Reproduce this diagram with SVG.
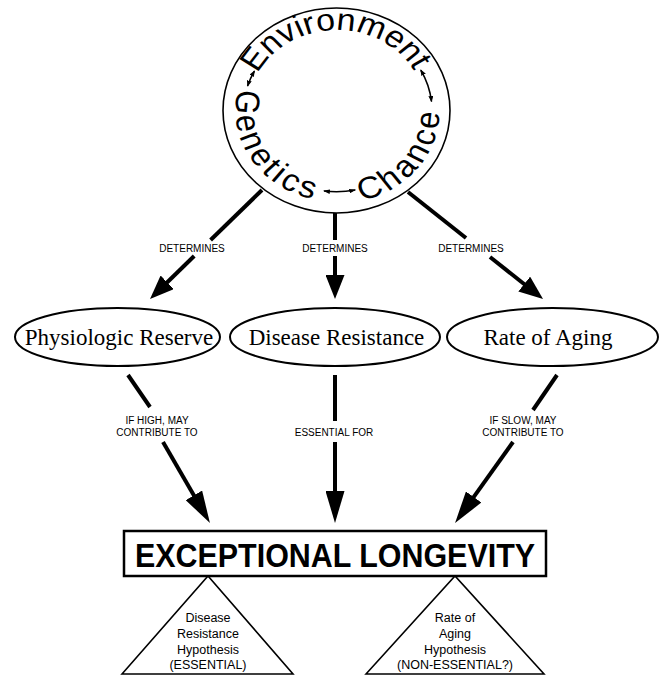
<svg xmlns="http://www.w3.org/2000/svg" width="662" height="675" viewBox="0 0 662 675">
<style>
.bg{fill:#fff}
.ln{stroke:#000;stroke-width:4;fill:none}
.thin{stroke:#000;stroke-width:1.6;fill:none}
.big{font-family:"Liberation Sans",Arial,sans-serif;font-size:34px;fill:#000}
.lbl{font-family:"Liberation Sans",Arial,sans-serif;font-size:10px;fill:#000;text-anchor:middle}
.ell{font-family:"Liberation Serif","Times New Roman",serif;font-size:23px;fill:#000;text-anchor:middle}
.eo{fill:none;stroke:#000;stroke-width:2}
.tri{font-family:"Liberation Sans",Arial,sans-serif;font-size:12.5px;fill:#000;text-anchor:middle}
.title{font-family:"Liberation Sans",Arial,sans-serif;font-size:33px;font-weight:bold;fill:#000;text-anchor:middle}
</style>
<defs>
<marker id="mU" viewBox="0 0 24 19" refX="1" refY="9.5" markerWidth="24" markerHeight="19" markerUnits="userSpaceOnUse" orient="auto"><path d="M0,0 L24,9.5 L0,19 z" fill="#000"/></marker>
<marker id="mL" viewBox="0 0 32 19" refX="1" refY="9.5" markerWidth="32" markerHeight="19" markerUnits="userSpaceOnUse" orient="auto"><path d="M0,0 L32,9.5 L0,19 z" fill="#000"/></marker>
<marker id="sm" viewBox="0 0 7 5" refX="6" refY="2.5" markerWidth="7" markerHeight="5" markerUnits="userSpaceOnUse" orient="auto-start-reverse"><path d="M0,0 L7,2.5 L0,5 z" fill="#000"/></marker>
<path id="pEnv" d="M -87.9,-13.9 A 89 89 0 0 1 87.4,-17"/>
<path id="pGen" d="M -74.5,-68.2 A 101 101 0 0 0 30.4,96.3"/>
<path id="pCha" d="M -32.1,98.0 A 103 103 0 0 0 86.2,-56.4"/>
</defs>
<rect class="bg" x="0" y="0" width="662" height="675"/>

<g id="factors" transform="translate(336.5,110.5) scale(1,0.903)">
<circle cx="0" cy="0" r="113.5" fill="none" stroke="#000" stroke-width="1.6"/>
<text class="big"><textPath href="#pEnv" startOffset="50%" text-anchor="middle">Environment</textPath></text>
<text class="big" letter-spacing="3.4"><textPath href="#pGen" startOffset="50%" text-anchor="middle">Genetics</textPath></text>
<text class="big" letter-spacing="3.3"><textPath href="#pCha" startOffset="50%" text-anchor="middle">Chance</textPath></text>
<path class="thin" d="M -82.1,-43.7 A 93 93 0 0 0 -88.9,-27.2" marker-start="url(#sm)" marker-end="url(#sm)"/>
<path class="thin" d="M 84.3,-44.8 A 95.5 95.5 0 0 1 95.0,-10.0" marker-start="url(#sm)" marker-end="url(#sm)"/>
<path class="thin" d="M -12.5,89.1 A 90 90 0 0 0 18.7,88.0" marker-start="url(#sm)" marker-end="url(#sm)"/>
</g>

<g id="connectors">
<path class="ln" d="M262,190 L210.6,240"/>
<path class="ln" d="M194.2,256 L166.5,283" marker-end="url(#mU)"/>
<path class="ln" d="M335,213 L335,240"/>
<path class="ln" d="M335,256 L335,276" marker-end="url(#mU)"/>
<path class="ln" d="M408,192 L466,238"/>
<path class="ln" d="M490,257 L525,284.7" marker-end="url(#mU)"/>
<path class="ln" d="M128,375 L150,407"/>
<path class="ln" d="M163,442 L194.4,496.2" marker-end="url(#mL)"/>
<path class="ln" d="M335,375 L335,421"/>
<path class="ln" d="M335,442 L335,492" marker-end="url(#mL)"/>
<path class="ln" d="M557,375 L533,410"/>
<path class="ln" d="M513,442 L473.1,497.8" marker-end="url(#mL)"/>
<text class="lbl" x="192" y="252">DETERMINES</text>
<text class="lbl" x="335" y="252">DETERMINES</text>
<text class="lbl" x="471" y="252">DETERMINES</text>
<text class="lbl" x="157" y="424">IF HIGH, MAY</text>
<text class="lbl" x="157" y="435.5">CONTRIBUTE TO</text>
<text class="lbl" x="334" y="435.5">ESSENTIAL FOR</text>
<text class="lbl" x="523" y="424">IF SLOW, MAY</text>
<text class="lbl" x="523" y="435.5">CONTRIBUTE TO</text>
</g>

<g id="physiologic-reserve">
<ellipse class="eo" cx="117.5" cy="337" rx="102.5" ry="29"/>
<text class="ell" x="119" y="345">Physiologic Reserve</text>
</g>
<g id="disease-resistance">
<ellipse class="eo" cx="335" cy="337" rx="105" ry="29"/>
<text class="ell" x="336.5" y="345">Disease Resistance</text>
</g>
<g id="rate-of-aging">
<ellipse class="eo" cx="552.5" cy="337" rx="105.5" ry="29"/>
<text class="ell" x="548" y="345">Rate of Aging</text>
</g>

<g id="exceptional-longevity">
<rect x="124" y="531" width="422" height="45" fill="none" stroke="#000" stroke-width="2.5"/>
<text class="title" x="335" y="567" textLength="400" lengthAdjust="spacingAndGlyphs">EXCEPTIONAL LONGEVITY</text>
</g>

<g id="disease-resistance-hypothesis">
<path class="thin" d="M122,674 L208,576 L293,674 Z"/>
<text class="tri" x="208" y="621.5">Disease</text>
<text class="tri" x="208" y="637.5">Resistance</text>
<text class="tri" x="208" y="653.5">Hypothesis</text>
<text class="tri" x="208" y="669">(ESSENTIAL)</text>
</g>
<g id="rate-of-aging-hypothesis">
<path class="thin" d="M366,674 L455,576 L544,674 Z"/>
<text class="tri" x="455" y="621.5">Rate of</text>
<text class="tri" x="455" y="637.5">Aging</text>
<text class="tri" x="455" y="653.5">Hypothesis</text>
<text class="tri" x="455" y="669">(NON-ESSENTIAL?)</text>
</g>
</svg>
